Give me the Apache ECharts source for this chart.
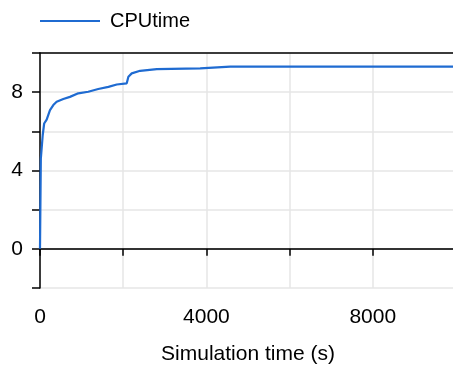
<!DOCTYPE html>
<html>
<head>
<meta charset="utf-8">
<script src="https://cdn.jsdelivr.net/npm/echarts@6/dist/echarts.min.js"></script>
<style>
  html, body { margin: 0; padding: 0; background: #fff; }
  #chart { width: 453px; height: 365px; }
</style>
</head>
<body>
<div id="chart"></div>
<script>
// simulation time (s) and CPU time
const simTime = [0, 20, 60, 65, 85, 100, 160, 240, 320, 400, 560, 720, 920, 1160, 1400, 1645, 1845, 2085, 2125, 2205, 2407, 2808, 3850, 4573, 10000];
const cpuTime = [0, 4.6, 4.6, 5.8, 5.8, 6.4, 6.6, 7.08, 7.34, 7.51, 7.65, 7.76, 7.94, 8.02, 8.16, 8.27, 8.39, 8.45, 8.79, 8.96, 9.09, 9.18, 9.21, 9.3, 9.3];
const xLabels = [0, 4000, 8000];
const yLabels = [0, 4, 8];

const font = 'Liberation Sans, Arial, sans-serif';
const chart = echarts.init(document.getElementById('chart'));

chart.setOption({
  animation: false,
  grid: { left: 40, width: 416, top: 53, height: 235, outerBoundsMode: 'none', containLabel: false },
  legend: {
    left: 35,
    top: 5,
    itemWidth: 60,
    itemHeight: 2,
    icon: 'rect',
    textStyle: { fontFamily: font, fontSize: 20, color: '#000', lineHeight: 22, padding: [0, 0, 0, 5] },
    data: ['CPUtime']
  },
  xAxis: [{
    type: 'value',
    min: 0,
    max: 10000,
    interval: 2000,
    name: 'Simulation time (s)',
    nameLocation: 'middle',
    nameGap: 56,
    nameTextStyle: { fontFamily: font, fontSize: 21, color: '#000' },
    axisLine: { lineStyle: { color: '#000', width: 1.5 } },
    axisTick: { length: 7, lineStyle: { color: '#000', width: 1.5 } },
    axisLabel: {
      margin: 19,
      fontFamily: font,
      fontSize: 21,
      color: '#000',
      formatter: v => xLabels.includes(v) ? String(v) : ''
    },
    splitLine: { show: true, lineStyle: { color: '#e6e6e6', width: 1.5 } }
  }, {
    type: 'value',
    position: 'top',
    min: 0,
    max: 10000,
    axisLine: { show: true, lineStyle: { color: '#000', width: 1.5 } },
    axisTick: { show: false },
    axisLabel: { show: false },
    splitLine: { show: false }
  }],
  yAxis: {
    type: 'value',
    min: -2,
    max: 10,
    interval: 2,
    axisLine: { show: true, lineStyle: { color: '#000', width: 1.5 } },
    axisTick: { show: true, length: 8, lineStyle: { color: '#000', width: 1.5 } },
    axisLabel: {
      margin: 17,
      fontFamily: font,
      fontSize: 21,
      color: '#000',
      formatter: v => yLabels.includes(v) ? String(v) : ''
    },
    splitLine: {
      show: true,
      lineStyle: { color: ['#e6e6e6', '#bdbdbd', '#e6e6e6', '#e6e6e6', '#e6e6e6', '#e6e6e6', '#e6e6e6'], width: 1.5 }
    }
  },
  series: [{
    name: 'CPUtime',
    type: 'line',
    data: simTime.map((t, i) => [t, cpuTime[i]]),
    showSymbol: false,
    color: '#1f6bd1',
    lineStyle: { width: 2.2, color: '#1f6bd1' }
  }]
});
</script>
</body>
</html>
